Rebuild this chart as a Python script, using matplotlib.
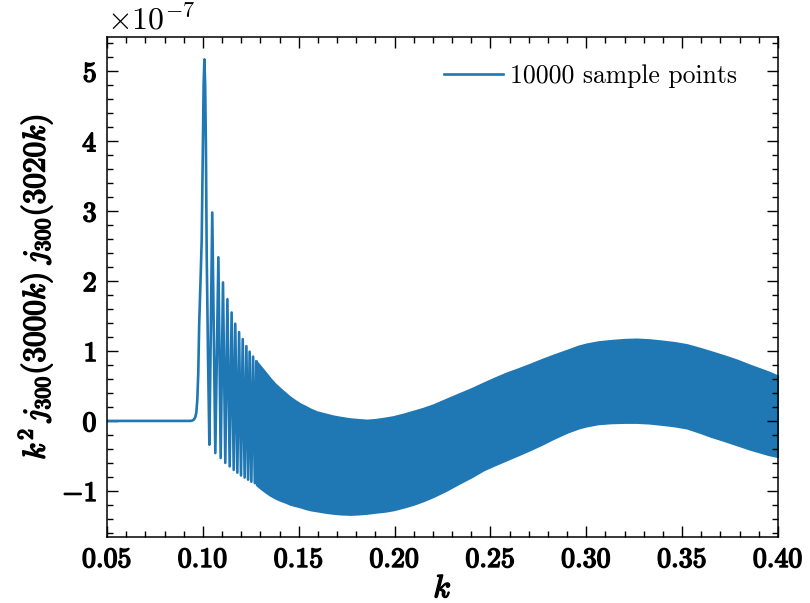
import matplotlib
matplotlib.use("Agg")
import matplotlib.pyplot as plt
import matplotlib.patheffects as pe
from matplotlib.ticker import MultipleLocator, FuncFormatter

plt.rcParams['mathtext.fontset'] = 'cm'
plt.rcParams['font.family'] = 'serif'
plt.rcParams['font.serif'] = ['cmr10']
plt.rcParams['axes.formatter.use_mathtext'] = True

SCALE = 1e-7

# isolated spikes near the turning point (values in units of 1e-7)
spike_k = [0.050, 0.0935, 0.0945, 0.0953, 0.0960, 0.0966, 0.0971, 0.0976, 0.0981,
           0.0989, 0.0994, 0.1000, 0.1004, 0.1008, 0.1012, 0.1016, 0.1020, 0.1027,
           0.1034, 0.1049, 0.1065, 0.1081, 0.1093, 0.1105, 0.1117, 0.1128, 0.1140,
           0.1150, 0.1161, 0.1169, 0.1180, 0.1189, 0.1199, 0.1208, 0.1218, 0.1227,
           0.1236, 0.1244, 0.1253, 0.1262, 0.1271, 0.1279]
spike_v = [0.0, 0.0, 0.005, 0.02, 0.05, 0.12, 0.30, 0.68, 1.40,
           2.11, 2.59, 3.90, 4.80, 5.17, 4.80, 3.90, 2.40, 0.90,
           -0.34, 2.98, -0.46, 2.34, -0.53, 1.98, -0.60, 1.74, -0.65,
           1.55, -0.70, 1.39, -0.74, 1.27, -0.78, 1.17, -0.81, 1.07,
           -0.84, 0.99, -0.87, 0.92, -0.89, 0.85]

# dense oscillation band: upper and lower envelopes (units of 1e-7)
band_k = [0.1279, 0.1300, 0.1324, 0.1350, 0.1376, 0.1400, 0.1429, 0.1455, 0.1481,
          0.1510, 0.1533, 0.1560, 0.1594, 0.1637, 0.1680, 0.1720, 0.1768, 0.1810,
          0.1855, 0.1900, 0.1950, 0.1993, 0.2050, 0.2100, 0.2150, 0.2202, 0.2270,
          0.2330, 0.2400, 0.2463, 0.2520, 0.2580, 0.2640, 0.2707, 0.2770, 0.2828,
          0.2900, 0.2960, 0.3002, 0.3060, 0.3130, 0.3200, 0.3263, 0.3330, 0.3400,
          0.3460, 0.3524, 0.3590, 0.3650, 0.3720, 0.3785, 0.3850, 0.3900, 0.3950,
          0.4000]
band_upper = [0.85, 0.78, 0.70, 0.61, 0.53, 0.47, 0.40, 0.34, 0.29,
              0.24, 0.21, 0.17, 0.13, 0.10, 0.07, 0.05, 0.03, 0.02,
              0.01, 0.02, 0.04, 0.06, 0.10, 0.14, 0.18, 0.23, 0.31,
              0.38, 0.46, 0.54, 0.61, 0.68, 0.74, 0.81, 0.88, 0.94,
              1.01, 1.07, 1.10, 1.13, 1.15, 1.165, 1.17, 1.16, 1.14,
              1.12, 1.09, 1.04, 0.99, 0.93, 0.87, 0.80, 0.75, 0.70,
              0.64]
band_lower = [-0.91, -0.96, -1.01, -1.06, -1.10, -1.13, -1.16, -1.19, -1.21,
              -1.23, -1.25, -1.27, -1.285, -1.305, -1.32, -1.33, -1.335, -1.33,
              -1.32, -1.305, -1.29, -1.27, -1.23, -1.19, -1.14, -1.08, -0.99,
              -0.90, -0.80, -0.70, -0.63, -0.56, -0.49, -0.41, -0.33, -0.25,
              -0.16, -0.10, -0.07, -0.04, -0.025, -0.02, -0.02, -0.03, -0.05,
              -0.07, -0.10, -0.16, -0.22, -0.28, -0.34, -0.40, -0.44, -0.48,
              -0.51]

legend_label = "10000 sample points"
color = '#1f77b4'
bold = [pe.withStroke(linewidth=1.1, foreground='black')]

fig = plt.figure(figsize=(8.1, 6.03), dpi=100)
ax = fig.add_axes([107/810, 66/603, 671/810, 500/603])

ax.plot(spike_k, [v * SCALE for v in spike_v], color=color, lw=1.9, label=legend_label)
ax.fill_between(band_k, [v * SCALE for v in band_lower], [v * SCALE for v in band_upper],
                facecolor=color, edgecolor=color, lw=1.6)

ax.set_xlim(0.05, 0.40)
ax.set_ylim(-1.66e-7, 5.49e-7)

ax.xaxis.set_major_locator(MultipleLocator(0.05))
ax.xaxis.set_minor_locator(MultipleLocator(0.01))
ax.yaxis.set_major_locator(MultipleLocator(1e-7))
ax.yaxis.set_minor_locator(MultipleLocator(0.2e-7))
ax.xaxis.set_major_formatter(FuncFormatter(lambda v, p: r'$\mathdefault{%.2f}$' % v))
ax.yaxis.set_major_formatter(FuncFormatter(lambda v, p: r'$\mathdefault{%d}$' % round(v / SCALE)))

ax.tick_params(which='both', direction='in', top=True, right=True, width=1.0)
ax.tick_params(which='major', length=8, labelsize=20, pad=7)
ax.tick_params(which='minor', length=4.5)
for s in ax.spines.values():
    s.set_linewidth(1.1)
for lab in ax.get_xticklabels() + ax.get_yticklabels():
    lab.set_path_effects(bold)

ax.text(0.0, 1.003, r'$\times\mathdefault{10^{-7}}$', transform=ax.transAxes,
        ha='left', va='bottom', fontsize=23)

xl = ax.set_xlabel(r'$k$', fontsize=23, labelpad=2)
yl = ax.set_ylabel(r'$k^2\,j_{300}(3000k)\;j_{300}(3020k)$', fontsize=22.5, labelpad=5)
xl.set_path_effects(bold)
yl.set_path_effects(bold)

ax.legend(loc='upper right', bbox_to_anchor=(0.974, 0.991), frameon=False,
          fontsize=18.5, handlelength=2.3, handletextpad=0.3)

fig.savefig('out.png', dpi=100)
